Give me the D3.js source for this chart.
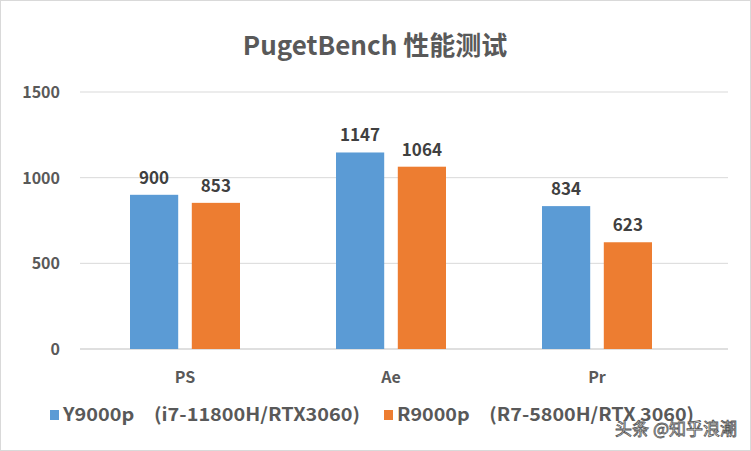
<!DOCTYPE html>
<html><head><meta charset="utf-8">
<script src="https://cdn.jsdelivr.net/npm/d3@7"></script>
<style>body{margin:0;background:#fff;font-family:"Microsoft YaHei","Noto Sans CJK SC","Noto Sans",sans-serif}</style>
</head><body><div id="chart"></div>
<script>
var categories = ["PS", "Ae", "Pr"];
var seriesNames = ["Y9000p\u3000(i7-11800H/RTX3060)", "R9000p\u3000(R7-5800H/RTX 3060)"];
var y9000p = [900, 1147, 834];
var r9000p = [853, 1064, 623];
var yTicks = [0, 500, 1000, 1500];
var colors = ["#5b9bd5", "#ed7d31"];

var width = 751, height = 451;
var svg = d3.select("#chart").append("svg").attr("width", width).attr("height", height);
svg.append("rect").attr("x", 0.5).attr("y", 0.5).attr("width", width - 1).attr("height", height - 1)
    .attr("fill", "#fff").attr("stroke", "#d9d9d9");

svg.append("text").attr("x", 375).attr("y", 55).attr("text-anchor", "middle")
    .attr("font-size", 26).attr("font-weight", "bold").attr("fill", "#595959").text("PugetBench 性能测试");

var x = d3.scaleBand().domain(categories).range([82, 700]);
var y = d3.scaleLinear().domain([0, 1500]).range([349, 92]);
var xs = d3.scaleBand().domain([0, 1]).range([0, 110]).paddingInner(0.22);

var g = svg.append("g");
g.selectAll(".grid").data(yTicks).enter().append("line")
    .attr("x1", 80).attr("x2", 728).attr("y1", d => y(d)).attr("y2", d => y(d))
    .attr("stroke", d => d === 0 ? "#bfbfbf" : "#d9d9d9");
g.selectAll(".yl").data(yTicks).enter().append("text")
    .attr("x", 60).attr("y", d => y(d) + 6).attr("text-anchor", "end")
    .attr("font-size", 16).attr("font-weight", "bold").attr("fill", "#595959").text(d => d);
g.selectAll(".xl").data(categories).enter().append("text")
    .attr("x", d => x(d) + x.bandwidth() / 2).attr("y", 383).attr("text-anchor", "middle")
    .attr("font-size", 16).attr("font-weight", "bold").attr("fill", "#595959").text(d => d);

[y9000p, r9000p].forEach(function(vals, s) {
    var grp = g.append("g");
    grp.selectAll("rect").data(vals).enter().append("rect")
        .attr("x", (d, i) => x(categories[i]) + x.bandwidth() / 2 - 55 + xs(s))
        .attr("width", xs.bandwidth())
        .attr("y", d => y(d)).attr("height", d => y(0) - y(d)).attr("fill", colors[s]);
    grp.selectAll("text").data(vals).enter().append("text")
        .attr("x", (d, i) => x(categories[i]) + x.bandwidth() / 2 - 55 + xs(s) + xs.bandwidth() / 2)
        .attr("y", d => y(d) - 11).attr("text-anchor", "middle")
        .attr("font-size", 17).attr("font-weight", "bold").attr("fill", "#404040").text(d => d);
});

var lx = [50, 384];
seriesNames.forEach(function(n, s) {
    svg.append("rect").attr("x", lx[s]).attr("y", 410).attr("width", 9).attr("height", 10).attr("fill", colors[s]);
    svg.append("text").attr("x", lx[s] + 13).attr("y", 421).attr("font-size", 18).attr("font-weight", "bold")
        .attr("textLength", 297).attr("lengthAdjust", "spacingAndGlyphs")
        .attr("fill", "#595959").text(n);
});
svg.append("text").attr("x", 737).attr("y", 435).attr("text-anchor", "end").attr("font-size", 17)
    .attr("fill", "#fff").attr("stroke", "#555").attr("stroke-width", 0.8).text("头条 @知乎浪潮");
</script></body></html>
